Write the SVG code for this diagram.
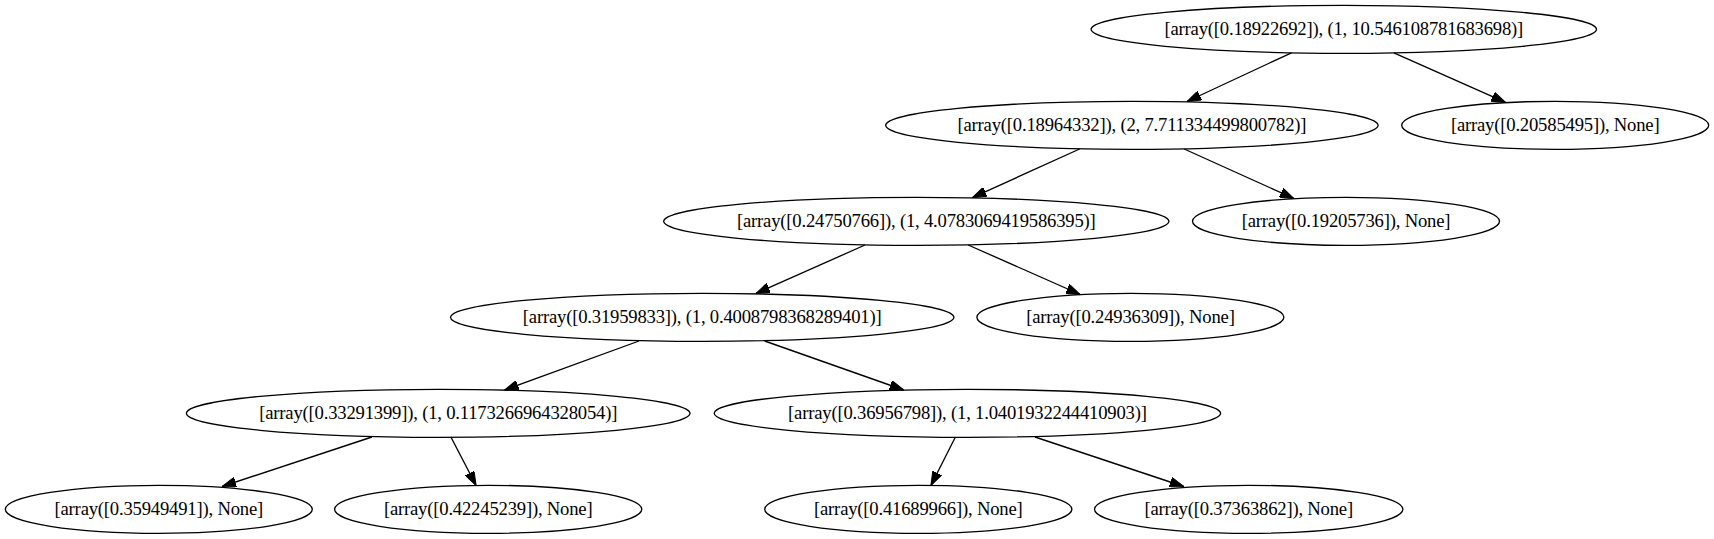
<svg xmlns="http://www.w3.org/2000/svg" width="1714" height="539" viewBox="0 0 1714 539">
<style>
.n ellipse{fill:none;stroke:#000;stroke-width:1.33}
.n text{font-family:"Liberation Serif","Times New Roman",serif;font-size:18.67px;letter-spacing:-0.2px;text-anchor:middle;fill:#000}
#edges line{stroke:#000;stroke-width:1.33}
</style>
<defs>
<marker id="arr" markerUnits="userSpaceOnUse" markerWidth="14" markerHeight="10" viewBox="0 0 13.33 9.33" refX="13.33" refY="4.67" orient="auto">
<path d="M0,0 L13.33,4.67 L0,9.33 z" fill="#000" stroke="#000" stroke-width="1"/>
</marker>
</defs>
<rect width="1714" height="539" fill="#fff"/>
<g id="edges">
<line x1="1291.5" y1="52.8" x2="1187" y2="101.5" marker-end="url(#arr)"/>
<line x1="1393.9" y1="52.8" x2="1505.5" y2="102.4" marker-end="url(#arr)"/>
<line x1="1079.6" y1="149" x2="972.4" y2="197.6" marker-end="url(#arr)"/>
<line x1="1184.2" y1="149" x2="1293.9" y2="198.5" marker-end="url(#arr)"/>
<line x1="865" y1="245" x2="755.9" y2="293.5" marker-end="url(#arr)"/>
<line x1="968.2" y1="245" x2="1080.2" y2="294.5" marker-end="url(#arr)"/>
<line x1="639" y1="341" x2="504.6" y2="390" marker-end="url(#arr)"/>
<line x1="764.7" y1="341" x2="903.7" y2="390" marker-end="url(#arr)"/>
<line x1="371.9" y1="437" x2="222.1" y2="486.5" marker-end="url(#arr)"/>
<line x1="450.9" y1="437" x2="476.1" y2="485.5" marker-end="url(#arr)"/>
<line x1="955.4" y1="437" x2="930.9" y2="485.5" marker-end="url(#arr)"/>
<line x1="1035" y1="437" x2="1183.7" y2="486.5" marker-end="url(#arr)"/>
</g>
<g id="n0" class="n"><ellipse cx="1343.8" cy="29.33" rx="252.7" ry="24"/><text x="1343.8" y="35.3">[array([0.18922692]), (1, 10.546108781683698)]</text></g>
<g id="n1" class="n"><ellipse cx="1131.9" cy="125.33" rx="246.2" ry="24"/><text x="1131.9" y="131.3">[array([0.18964332]), (2, 7.711334499800782)]</text></g>
<g id="n2" class="n"><ellipse cx="1555.2" cy="125.33" rx="153.5" ry="24"/><text x="1555.2" y="131.3">[array([0.20585495]), None]</text></g>
<g id="n3" class="n"><ellipse cx="916.3" cy="221.33" rx="252.6" ry="24"/><text x="916.3" y="227.3">[array([0.24750766]), (1, 4.0783069419586395)]</text></g>
<g id="n4" class="n"><ellipse cx="1346" cy="221.33" rx="153.5" ry="24"/><text x="1346" y="227.3">[array([0.19205736]), None]</text></g>
<g id="n5" class="n"><ellipse cx="702.2" cy="317.33" rx="251.7" ry="24"/><text x="702.2" y="323.3">[array([0.31959833]), (1, 0.4008798368289401)]</text></g>
<g id="n6" class="n"><ellipse cx="1130.4" cy="317.33" rx="153.5" ry="24"/><text x="1130.4" y="323.3">[array([0.24936309]), None]</text></g>
<g id="n7" class="n"><ellipse cx="438.2" cy="413.33" rx="251.8" ry="24"/><text x="438.2" y="419.3">[array([0.33291399]), (1, 0.1173266964328054)]</text></g>
<g id="n8" class="n"><ellipse cx="967.4" cy="413.33" rx="253.2" ry="24"/><text x="967.4" y="419.3">[array([0.36956798]), (1, 1.0401932244410903)]</text></g>
<g id="n9" class="n"><ellipse cx="158.8" cy="509.33" rx="153.5" ry="24"/><text x="158.8" y="515.3">[array([0.35949491]), None]</text></g>
<g id="n10" class="n"><ellipse cx="488.2" cy="509.33" rx="153.6" ry="24"/><text x="488.2" y="515.3">[array([0.42245239]), None]</text></g>
<g id="n11" class="n"><ellipse cx="918.3" cy="509.33" rx="153.6" ry="24"/><text x="918.3" y="515.3">[array([0.41689966]), None]</text></g>
<g id="n12" class="n"><ellipse cx="1248.7" cy="509.33" rx="154.2" ry="24"/><text x="1248.7" y="515.3">[array([0.37363862]), None]</text></g>
</svg>
